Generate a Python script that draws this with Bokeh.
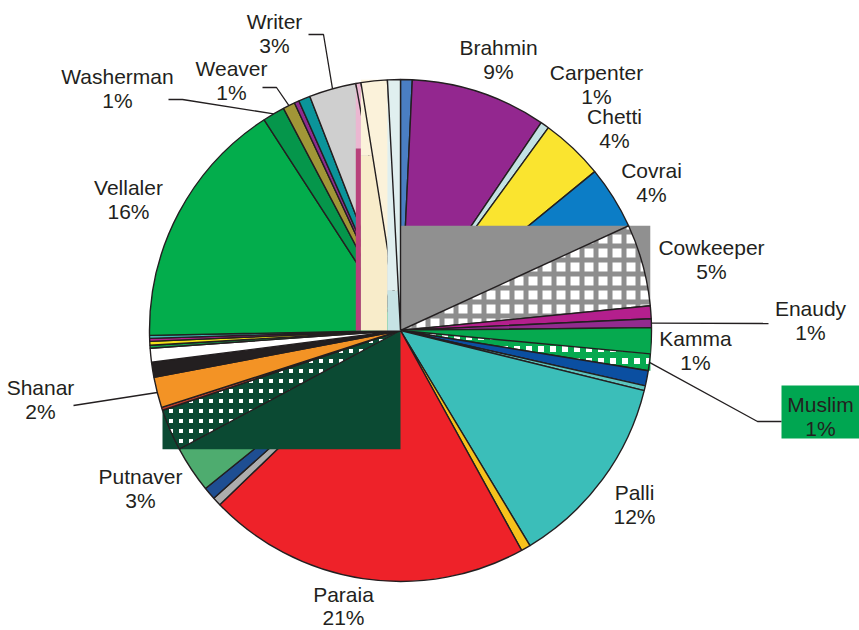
import math
from bokeh.plotting import figure
from bokeh.core.properties import value
from bokeh.embed import file_html
from bokeh.resources import INLINE

# ---------------- data (slices clockwise from 12 o'clock, percent) ----------------
slice_names = [
    "Other (blue)", "Brahmin", "Carpenter", "Chetti", "Covrai", "Cowkeeper",
    "Other (magenta)", "Enaudy", "Kamma", "Muslim", "Other (dark blue)", "Other (light teal)",
    "Palli", "Other (amber)", "Paraia", "Other (grey)", "Other (navy)", "Putnaver",
    "Other (dark green)", "Other (brown)", "Shanar", "Other (black)", "Other (white)",
    "Other (green)", "Other (yellow)", "Other (magenta 2)", "Other (teal)", "Vellaler",
    "Washerman", "Weaver", "Other (purple)", "Other (teal 2)", "Writer",
    "Other (pink)", "Other (cream)", "Other (pale cyan)",
]
slice_shares = [
    0.75, 8.72, 0.56, 4.06, 4.06, 5.28,
    0.83, 0.56, 1.67, 1.08, 0.97, 0.31,
    12.53, 0.61, 20.81, 0.56, 0.81, 3.00,
    2.69, 0.19, 1.97, 0.97, 0.89,
    0.19, 0.25, 0.19, 0.19, 16.17,
    1.42, 0.78, 0.31, 0.75, 3.03,
    0.33, 1.69, 0.83,
]

label_names = ["Writer", "Weaver", "Washerman", "Brahmin", "Carpenter", "Chetti", "Covrai",
               "Cowkeeper", "Enaudy", "Kamma", "Muslim", "Palli", "Paraia", "Putnaver",
               "Shanar", "Vellaler"]
label_pcts = ["3%", "1%", "1%", "9%", "1%", "4%", "4%", "5%", "1%", "1%", "1%", "12%",
              "21%", "3%", "2%", "16%"]

# ---------------- style ----------------
slice_colors = [
    "#4A7EC3", "#93278F", "#C3E2E4", "#FAE42F", "#0C7DC6", "#FFFFFF",
    "#B41F8D", "#922B8F", "#03AC4D", "#FFFFFF", "#0B4FA1", "#5CC5BF",
    "#3BBEB9", "#F7C21C", "#EE2229", "#ADADAD", "#1E4E92", "#4EAC6F",
    "#FFFFFF", "#B93A2B", "#F39325", "#231F20", "#FFFFFF",
    "#12A54A", "#F3E11A", "#B3218D", "#3CB7B1", "#03AD4C",
    "#05964B", "#A19637", "#8E2B8E", "#0B949A", "#CFCFCF",
    "#EBB7D1", "#FBF2DA", "#E0EFEF",
]
# (hatch colour, hatch scale, hatch weight)
checker = {5: ("#8E8E8E", 14, 5.0), 9: ("#06A94F", 12, 6.0), 18: ("#0B4A33", 10, 6.0)}
bbox_fill = {5: "#909090", 9: "#06A94F", 18: "#0B4A33"}
strip_fill = {33: ("#B8407B", 0.725), 34: ("#F8ECCA", 0.697), 35: ("#C6E3E4", 0.159)}

INK = "#231F20"
FONT = value("Liberation Sans")
FS = "21px"

CX, CY, R = 400.0, 330.0, 251.0
W, H, OFF = 859, 630, 0


def px(xp, yp):
    return ((xp - CX) / R, (CY - yp) / R)


label_layout = {
    "Writer": (274, 33), "Weaver": (231, 80), "Washerman": (117, 88), "Brahmin": (498, 59),
    "Carpenter": (596, 84), "Chetti": (614, 128), "Covrai": (651, 182), "Cowkeeper": (711, 259),
    "Enaudy": (810, 320), "Kamma": (695, 350), "Muslim": (820, 416), "Palli": (634, 504),
    "Paraia": (343, 605), "Putnaver": (140, 488), "Shanar": (40, 399), "Vellaler": (128, 199),
}
label_gap = {"Paraia": 23.0}
label_size = {}
leaders = {
    "Writer": (32, [(323, 34), (308, 34)]),
    "Weaver": (29, [(276, 87), (262, 87)]),
    "Washerman": (28, [(182, 99), (168, 99)]),
    "Enaudy": (7, [(768, 323)]),
    "Muslim": (9, [(757, 421), (781, 421)]),
    "Shanar": (20, [(73, 405)]),
}
muslim_box = (781, 385, 859, 438)
LINE_GAP = 24.5

p = figure(width=W, height=H, output_backend="svg", toolbar_location=None,
           x_range=((OFF - CX) / R, (OFF + W - CX) / R),
           y_range=((CY - (OFF + H)) / R, (CY - OFF) / R),
           min_border=0, outline_line_color=None)
p.axis.visible = False
p.grid.visible = False
p.background_fill_color = "white"

total = sum(slice_shares)
starts, ends = [], []
acc = 0.0
for s in slice_shares:
    starts.append(acc / total * 360.0)
    acc += s
    ends.append(acc / total * 360.0)


def perim(deg, r=1.0):
    t = math.radians(deg)
    return (r * math.sin(t), r * math.cos(t))


def to_bokeh(deg):
    return math.pi / 2 - math.radians(deg)


for i, (s, e) in enumerate(zip(starts, ends)):
    if i in bbox_fill:
        pts = [(0.0, 0.0), perim(s), perim(e)]
        for c in (0, 90, 180, 270, 360):
            if s < c < e:
                pts.append(perim(c))
        xs = [q[0] for q in pts]
        ys = [q[1] for q in pts]
        p.quad(left=min(xs), right=max(xs), bottom=min(ys), top=max(ys),
               fill_color=bbox_fill[i], line_color=None)
    if i in strip_fill:
        solid, depth = strip_fill[i]
        (x0, y0), (x1, y1) = perim(s), perim(e)
        top = max(y0, y1)
        p.quad(left=min(x0, x1), right=max(x0, x1), bottom=depth, top=top,
               fill_color=slice_colors[i], line_color=None)
        p.quad(left=min(x0, x1), right=max(x0, x1), bottom=0.0, top=depth,
               fill_color=solid, line_color=None)
    kw = {}
    if i in checker:
        col, size, wt = checker[i]
        kw = dict(hatch_pattern="cross", hatch_scale=size, hatch_weight=wt, hatch_color=col)
    p.wedge(x=0, y=0, radius=1.0, start_angle=to_bokeh(s), end_angle=to_bokeh(e),
            direction="clock", fill_color=slice_colors[i], line_color=INK,
            line_width=1.4, **kw)

# Muslim label box
bx0, by0 = px(muslim_box[0], muslim_box[1])
bx1, by1 = px(muslim_box[2], muslim_box[3])
p.quad(left=bx0, right=bx1, top=by0, bottom=by1, fill_color="#00A651", line_color=None)

# leader lines
for name, (idx, elbows) in leaders.items():
    mid = (starts[idx] + ends[idx]) / 2
    x0, y0 = perim(mid)
    xs, ys = [x0], [y0]
    for (a, b) in elbows:
        u, v = px(a, b)
        xs.append(u)
        ys.append(v)
    p.line(xs, ys, line_color=INK, line_width=1.3)

# labels
for name, pct in zip(label_names, label_pcts):
    cxp, cyp = label_layout[name]
    gap = label_gap.get(name, LINE_GAP)
    fs = label_size.get(name, FS)
    x1, y1 = px(cxp, cyp - gap / 2)
    x2, y2 = px(cxp, cyp + gap / 2)
    p.text(x=[x1], y=[y1], text=[name], text_font=FONT, text_font_size=fs,
           text_color=INK, text_align="center", text_baseline="middle")
    p.text(x=[x2], y=[y2], text=[pct], text_font=FONT, text_font_size=fs,
           text_color=INK, text_align="center", text_baseline="middle")

open("out.html", "w").write(file_html(p, INLINE))
